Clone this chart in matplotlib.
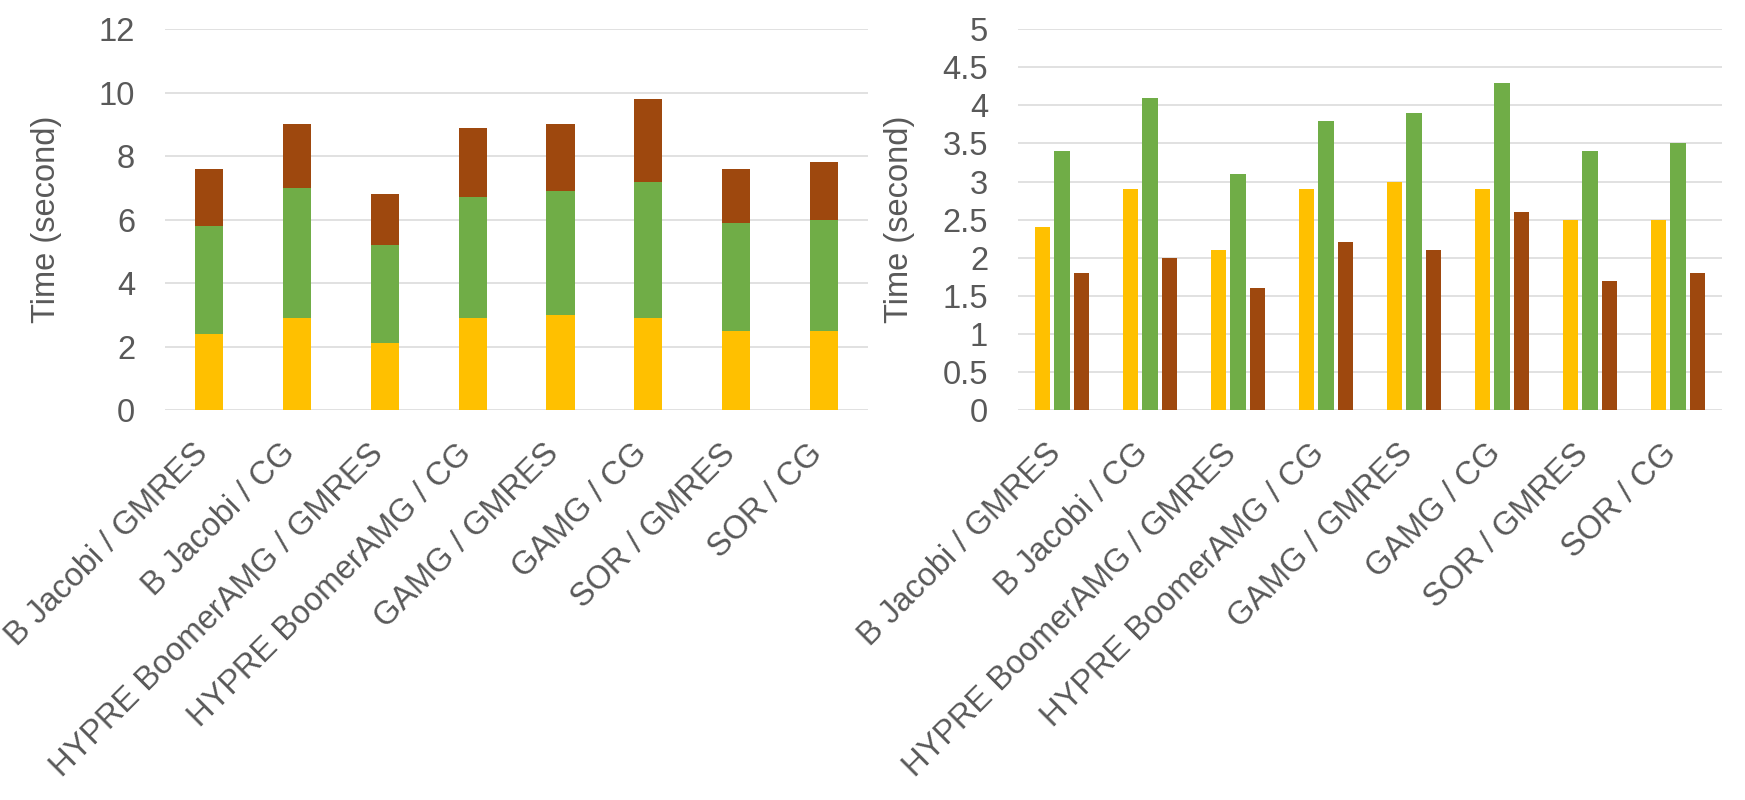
import matplotlib
matplotlib.use("Agg")
import matplotlib.pyplot as plt
import matplotlib.transforms as mtransforms
import numpy as np

categories = ["B Jacobi / GMRES", "B Jacobi / CG", "HYPRE BoomerAMG / GMRES",
              "HYPRE BoomerAMG / CG", "GAMG / GMRES", "GAMG / CG",
              "SOR / GMRES", "SOR / CG"]
part_yellow = [2.4, 2.9, 2.1, 2.9, 3.0, 2.9, 2.5, 2.5]
part_green = [3.4, 4.1, 3.1, 3.8, 3.9, 4.3, 3.4, 3.5]
part_brown = [1.8, 2.0, 1.6, 2.2, 2.1, 2.6, 1.7, 1.8]
left_ticks = [0, 2, 4, 6, 8, 10, 12]
right_ticks = [0, 0.5, 1, 1.5, 2, 2.5, 3, 3.5, 4, 4.5, 5]

YELLOW, GREEN, BROWN = "#FFC000", "#70AD47", "#9E480E"
TEXT = "#595959"
GRID = "#D9D9D9"
FS = 23.5

plt.rcParams["font.family"] = ["Liberation Sans", "DejaVu Sans"]

fig = plt.figure(figsize=(17.45, 8), dpi=100)
ax1 = fig.add_axes([0.0946, 0.4875, 0.4029, 0.476])
ax2 = fig.add_axes([0.5834, 0.4875, 0.4034, 0.476])

x = np.arange(len(categories))

# left: stacked
y1 = np.array(part_yellow)
y2 = np.array(part_green)
y3 = np.array(part_brown)
ax1.bar(x, y1, width=0.32, color=YELLOW, zorder=3)
ax1.bar(x, y2, width=0.32, bottom=y1, color=GREEN, zorder=3)
ax1.bar(x, y3, width=0.32, bottom=y1 + y2, color=BROWN, zorder=3)
ax1.set_ylim(0, 12)
ax1.set_yticks(left_ticks)

# right: grouped
step, w = 0.222, 0.176
ax2.bar(x - step, part_yellow, width=w, color=YELLOW, zorder=3)
ax2.bar(x, part_green, width=w, color=GREEN, zorder=3)
ax2.bar(x + step, part_brown, width=w, color=BROWN, zorder=3)
ax2.set_ylim(0, 5)
ax2.set_yticks(right_ticks)
ax2.set_yticklabels([f"{t:g}" for t in right_ticks])

for ax in (ax1, ax2):
    ax.set_xlim(-0.5, len(categories) - 0.5)
    for s in ("top", "right", "left", "bottom"):
        ax.spines[s].set_visible(False)
    ax.grid(axis="y", color=GRID, linewidth=1.1, zorder=0)
    ax.tick_params(axis="y", length=0, pad=21.5, labelsize=FS, labelcolor=TEXT)
    ax.tick_params(axis="x", length=0, pad=28, labelsize=FS, labelcolor=TEXT)
    ax.set_xticks(x)
    ax.set_xticklabels(categories, rotation=45, ha="right", va="center",
                       rotation_mode="anchor")
    off = mtransforms.ScaledTranslation(-6 / 100, 0, fig.dpi_scale_trans)
    for lab in ax.get_xticklabels():
        lab.set_transform(lab.get_transform() + off)
    ax.set_ylabel("Time (second)", fontsize=FS, color=TEXT)
    ax.yaxis.set_label_coords(-0.168, 0.5)
    ax.yaxis.label.set_va("center")

fig.savefig("out.png", dpi=100)
